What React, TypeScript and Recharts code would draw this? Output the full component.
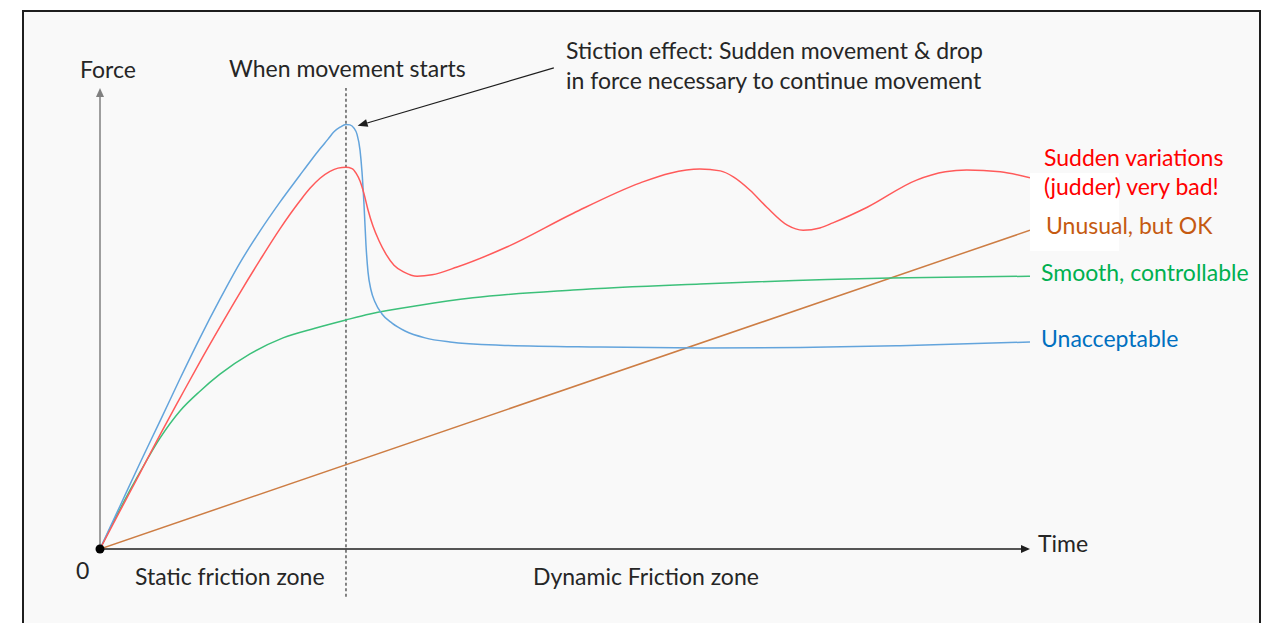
import React from 'react';
import { LineChart, Line, XAxis, YAxis, ReferenceLine, ReferenceDot } from 'recharts';

// Time axis 0..100, Force axis 0..100 (conceptual units)
const blueTime = [0, 2.15, 4.3, 6.45, 8.6, 10.75, 12.9, 15.05, 17.2, 19.35, 21.51, 22.58, 23.66, 24.52, 25.16, 25.81, 26.45, 26.88, 27.31, 27.63, 27.96, 28.17, 28.39, 28.6, 28.82, 29.14, 29.57, 30.32, 31.4, 32.8, 34.95, 37.63, 43.01, 53.76, 64.52, 75.27, 86.02, 100];
const blueForce = [0, 9.35, 18.7, 27.8, 37.0, 45.9, 54.3, 62.2, 69.1, 75.4, 81.3, 84.2, 87.0, 89.1, 90.7, 91.7, 92.3, 92.2, 91.5, 90.2, 86.7, 82.0, 74.8, 66.1, 60.2, 56.3, 53.7, 51.1, 49.1, 47.4, 45.9, 45.0, 44.3, 43.9, 43.7, 43.8, 44.2, 45.0];

const redTime = [0, 2.15, 4.3, 6.45, 8.6, 10.75, 12.9, 15.05, 17.2, 19.35, 21.51, 22.58, 23.66, 24.73, 25.59, 26.45, 27.1, 27.53, 27.96, 28.39, 28.82, 29.35, 30.0, 30.75, 31.61, 32.69, 34.09, 35.7, 38.4, 43.8, 50.9, 58.1, 61.3, 64.5, 66.7, 68.1, 69.9, 71.7, 73.9, 75.6, 77.4, 78.8, 82.5, 87.8, 90.9, 93.2, 96.8, 100];
const redForce = [0, 8.26, 16.5, 24.8, 32.8, 40.7, 48.3, 55.7, 62.8, 69.6, 75.7, 78.4, 80.6, 82.1, 82.8, 83.0, 82.7, 81.7, 80.0, 77.2, 73.7, 70.2, 67.0, 64.1, 61.7, 60.2, 59.3, 59.6, 61.3, 65.7, 73.0, 79.6, 81.7, 82.6, 82.2, 80.9, 78.0, 74.3, 70.4, 69.3, 69.8, 70.9, 74.3, 80.2, 82.0, 82.4, 82.0, 80.7];

const greenTime = [0, 2.15, 4.3, 6.45, 8.6, 10.75, 12.9, 16.13, 19.68, 23.12, 26.45, 29.03, 34.41, 40.11, 50.86, 64.52, 84.95, 100];
const greenForce = [0, 8.7, 16.7, 24.1, 30.0, 34.3, 38.0, 42.4, 45.9, 48.0, 49.8, 51.1, 53.0, 54.6, 56.3, 57.6, 58.9, 59.3];

const orangeTime = [0, 100];
const orangeForce = [0, 69.3];

const movementStart = 26.45;

const seriesLabels = ['Sudden variations', '(judder) very bad!', 'Unusual, but OK', 'Smooth, controllable', 'Unacceptable'];
const axisLabels = ['Force', 'Time', '0'];
const zoneLabels = ['Static friction zone', 'Dynamic Friction zone'];
const noteLabels = ['When movement starts', 'Stiction effect: Sudden movement & drop', 'in force necessary to continue movement'];

const zip = (ts: number[], fs: number[]) => ts.map((t, i) => ({ t, f: fs[i] }));
const blueData = zip(blueTime, blueForce);
const redData = zip(redTime, redForce);
const greenData = zip(greenTime, greenForce);
const orangeData = zip(orangeTime, orangeForce);

const FONT = 'Lato, Carlito, Calibri, sans-serif';
const TXT = '#262626';

const arrowShape = (color: string, width: number, headLen: number, headHalf: number) => (props: any) => {
  const { x1, y1, x2, y2 } = props;
  if ([x1, y1, x2, y2].some((v) => v === undefined || isNaN(v))) return <g />;
  const ang = Math.atan2(y2 - y1, x2 - x1);
  const bx = x2 - headLen * Math.cos(ang);
  const by = y2 - headLen * Math.sin(ang);
  const px = -Math.sin(ang) * headHalf;
  const py = Math.cos(ang) * headHalf;
  return (
    <g>
      <line x1={x1} y1={y1} x2={bx} y2={by} stroke={color} strokeWidth={width} />
      <polygon points={`${x2},${y2} ${bx + px},${by + py} ${bx - px},${by - py}`} fill={color} />
    </g>
  );
};

export default function App() {
  return (
    <div style={{ position: 'absolute', left: 0, top: 0, width: 1271, height: 623, overflow: 'hidden', background: '#ffffff' }}>
      <div style={{ position: 'absolute', left: 22, top: 10, width: 1235, height: 700, border: '2px solid #1e1e1e', background: '#f9f9f9' }} />
      <div style={{ position: 'absolute', left: 1030, top: 173, width: 89, height: 78, background: '#ffffff' }} />
      <div style={{ position: 'absolute', left: 0, top: 0 }}>
        <LineChart width={1271} height={623} margin={{ top: 89, left: 100, right: 241, bottom: 74 }}>
          <XAxis type="number" dataKey="t" domain={[0, 100]} hide allowDataOverflow />
          <YAxis type="number" dataKey="f" domain={[0, 100]} hide allowDataOverflow />
          <ReferenceLine
            segment={[{ x: movementStart, y: -10.4 }, { x: movementStart, y: 100.2 }]}
            stroke="#444"
            strokeWidth={1.3}
            strokeDasharray="3 2.5"
            ifOverflow="visible"
          />
          <ReferenceLine
            segment={[{ x: 0, y: 0 }, { x: 0, y: 100.2 }]}
            ifOverflow="visible"
            shape={arrowShape('#7f7f7f', 1.5, 9, 4)}
          />
          <ReferenceLine
            segment={[{ x: 0, y: 0 }, { x: 100, y: 0 }]}
            ifOverflow="visible"
            shape={arrowShape('#1e1e1e', 1.5, 9, 4)}
          />
          <Line data={orangeData} dataKey="f" type="linear" dot={false} stroke="#cd7d44" strokeWidth={1.5} isAnimationActive={false} />
          <Line data={greenData} dataKey="f" type="monotone" dot={false} stroke="#3cc07a" strokeWidth={1.5} isAnimationActive={false} />
          <Line data={blueData} dataKey="f" type="monotone" dot={false} stroke="#63a4dc" strokeWidth={1.5} isAnimationActive={false} />
          <Line data={redData} dataKey="f" type="monotone" dot={false} stroke="#ff5a5a" strokeWidth={1.5} isAnimationActive={false} />
          <ReferenceLine
            segment={[{ x: 48.8, y: 104.6 }, { x: 27.7, y: 92.0 }]}
            ifOverflow="visible"
            shape={arrowShape('#1e1e1e', 1.2, 10, 4)}
          />
          <ReferenceDot x={0} y={0} r={4.5} fill="#000" stroke="none" ifOverflow="visible" />
          <g fontFamily={FONT} fontSize={23}>
            <text x={80} y={78} fill={TXT}>{axisLabels[0]}</text>
            <text x={1038} y={552} fill={TXT}>{axisLabels[1]}</text>
            <text x={76} y={579} fill={TXT}>{axisLabels[2]}</text>
            <text x={229} y={77} fill={TXT}>{noteLabels[0]}</text>
            <text x={566} y={59} fill={TXT}>{noteLabels[1]}</text>
            <text x={566} y={89} fill={TXT}>{noteLabels[2]}</text>
            <text x={135} y={585} fill={TXT}>{zoneLabels[0]}</text>
            <text x={533} y={585} fill={TXT}>{zoneLabels[1]}</text>
            <text x={1044} y={166} fill="#ff0000">{seriesLabels[0]}</text>
            <text x={1044} y={195} fill="#ff0000">{seriesLabels[1]}</text>
            <text x={1046} y={234} fill="#c55a11">{seriesLabels[2]}</text>
            <text x={1041} y={281} fill="#00b050">{seriesLabels[3]}</text>
            <text x={1041} y={347} fill="#0070c0">{seriesLabels[4]}</text>
          </g>
        </LineChart>
      </div>
    </div>
  );
}
